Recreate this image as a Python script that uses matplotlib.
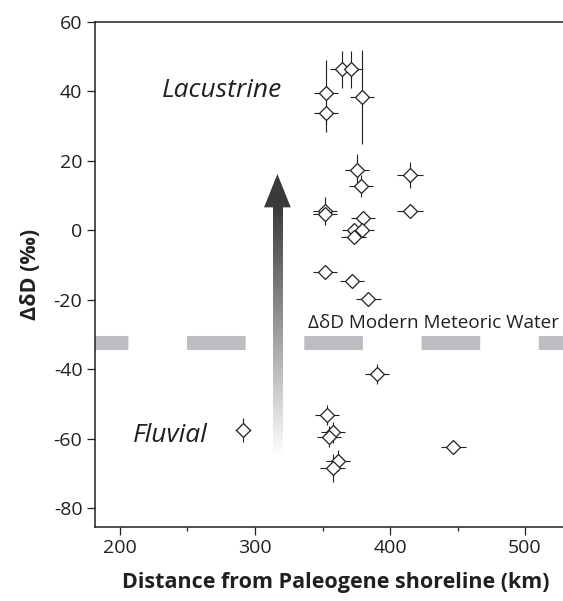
import matplotlib.pyplot as plt
import numpy as np
from matplotlib.colors import LinearSegmentedColormap
from matplotlib.patches import Polygon

plt.rcParams["font.family"] = ["Open Sans", "DejaVu Sans"]
plt.rcParams["axes.unicode_minus"] = False

# Distance from the Paleogene shoreline (km) and hydrogen isotope offset (permil)
distance = [364.2, 371.1, 379.0, 352.6, 352.6, 375.3, 378.5, 414.8, 414.8,
            351.9, 351.9, 380.0, 373.5, 379.0, 373.0, 351.9, 371.6, 384.0,
            390.1, 353.1, 358.0, 355.0, 291.4, 446.9, 361.5, 357.5]
delta_dd = [46.4, 46.4, 38.4, 39.6, 33.8, 17.3, 12.8, 15.9, 5.5,
            5.6, 4.8, 3.5, 0.0, 0.0, -2.0, -12.0, -14.6, -19.8,
            -41.3, -53.3, -58.2, -59.5, -57.6, -62.4, -66.4, -68.4]
distance_err = [9, 9, 9, 9, 9, 9, 9, 9.5, 9.5,
                9, 9, 9, 9, 9, 9, 9, 9, 9,
                9, 9, 9, 9, 6, 9, 9, 9]
delta_dd_err = [5.3, 5.3, 13.5, 9.4, 5.5, 4.6, 3.2, 3.7, 0,
                4.0, 3.0, 1.5, 1.5, 1.5, 1.5, 0, 0, 0,
                2.9, 2.9, 3.0, 3.0, 3.4, 1.0, 3.0, 4.0]

modern_meteoric = -32.5

fig = plt.figure(figsize=(5.63, 6.01), dpi=100)
ax = fig.add_axes([0.1687, 0.1236, 0.8313, 0.8398])

# dashed band for modern meteoric water
ax.axhline(modern_meteoric, color="#bcbdc0", lw=10.1,
           linestyle=(1.8, (4.18, 4.18)), dash_capstyle="butt", zorder=1)
ax.text(339, modern_meteoric + 5.9, "ΔδD Modern Meteoric Water",
        fontsize=13.6, color="#231f20", va="center", ha="left")

# gradient arrow from fluvial to lacustrine
shaft_x0, shaft_x1 = 313.6, 320.5
shaft_y0, shaft_y1 = -65, 6.8
grad_cmap = LinearSegmentedColormap.from_list("fade", ["#ffffff", "#3a3a3a"])
gradient = np.linspace(0, 1, 256).reshape(-1, 1)
ax.imshow(gradient, cmap=grad_cmap, origin="lower", aspect="auto",
          extent=(shaft_x0, shaft_x1, shaft_y0, shaft_y1), zorder=2)
head = Polygon([(306.7, 6.6), (326.5, 6.6), (316.6, 16.2)], closed=True,
               facecolor="#3a3a3a", edgecolor="none", zorder=2)
ax.add_patch(head)

ax.errorbar(distance, delta_dd, xerr=distance_err, yerr=delta_dd_err,
            fmt="D", ms=6.8, mfc="white", mec="#231f20", mew=0.9,
            ecolor="#231f20", elinewidth=0.8, capsize=0, zorder=3)

ax.text(275.5, 40.3, "Lacustrine", fontsize=19, style="italic",
        ha="center", va="center", color="#231f20")
ax.text(237, -59, "Fluvial", fontsize=19, style="italic",
        ha="center", va="center", color="#231f20")

ax.set_xlim(181.5, 528.1)
ax.set_ylim(-85.4, 60)
ax.set_xticks([200, 300, 400, 500])
ax.set_xticks([250, 350, 450], minor=True)
ax.set_yticks(np.arange(-80, 61, 20))

for side in ["left", "top", "bottom"]:
    ax.spines[side].set_linewidth(1.1)
    ax.spines[side].set_color("#231f20")
ax.spines["right"].set_visible(False)

ax.tick_params(axis="both", which="major", direction="out", length=6,
               width=0.9, color="#231f20", labelsize=14,
               labelcolor="#231f20", pad=3)
ax.tick_params(axis="x", which="minor", direction="out", length=3,
               width=0.9, color="#231f20")

ax.set_xlabel("Distance from Paleogene shoreline (km)", fontsize=15.5,
              fontweight="bold", color="#231f20")
ax.set_ylabel("ΔδD (‰)", fontsize=15.5, fontweight="bold",
              color="#231f20")
ax.xaxis.set_label_coords(0.515, -0.09)
ax.yaxis.set_label_coords(-0.115, 0.5)

fig.savefig("out.png", dpi=100)
